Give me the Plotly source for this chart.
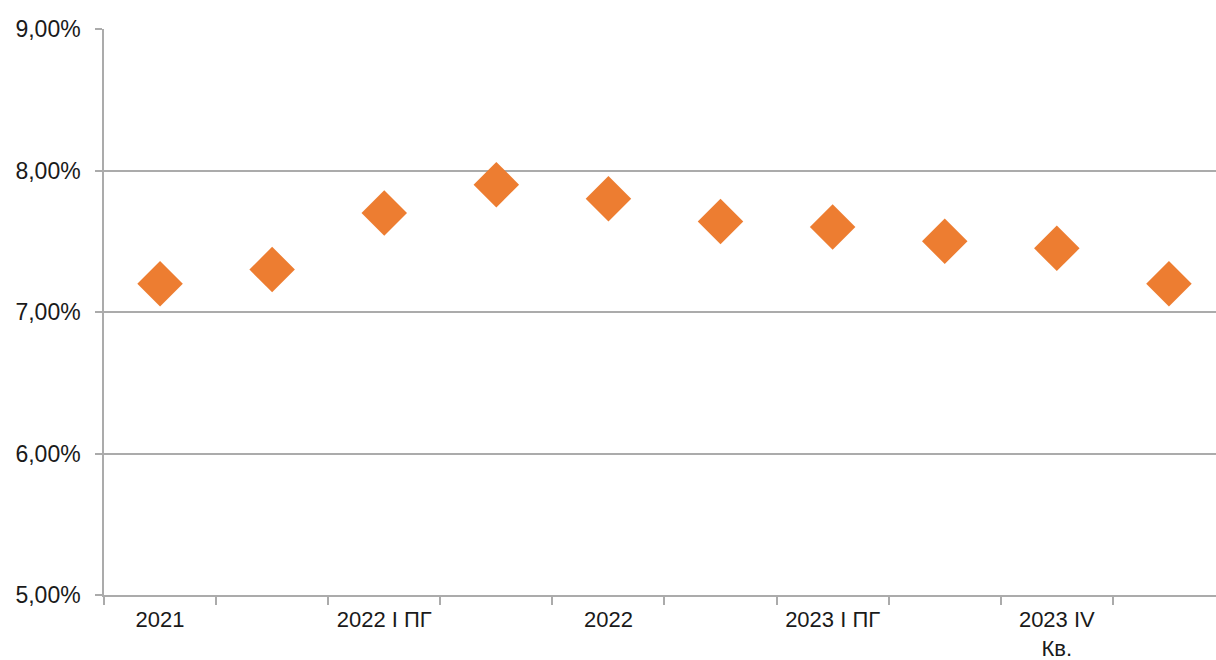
import plotly.graph_objects as go

# Periods (one per point) and the labels shown under every other period
periods = [
    "2021", "2022 I кв.", "2022 I ПГ", "2022 9 мес.", "2022",
    "2023 I кв.", "2023 I ПГ", "2023 9 мес.", "2023 IV Кв.", "2024 I кв.",
]
tick_labels = [
    "2021", "", "2022 I ПГ", "", "2022",
    "", "2023 I ПГ", "", "2023 IV<br>Кв.", "",
]
# Rate, %
rates = [7.20, 7.30, 7.70, 7.90, 7.80, 7.64, 7.60, 7.50, 7.45, 7.20]

y_ticks = [5, 6, 7, 8, 9]
y_tick_labels = ["5,00%", "6,00%", "7,00%", "8,00%", "9,00%"]

ORANGE = "#ED7D31"
GRID = "#ABABAB"
TEXT = "#1A1A1A"
FONT = "Liberation Sans, Arial, Helvetica, sans-serif"

fig = go.Figure(
    go.Scatter(
        x=periods,
        y=rates,
        mode="markers",
        marker=dict(symbol="diamond", size=35, color=ORANGE, line=dict(width=0)),
        showlegend=False,
    )
)

fig.update_layout(
    width=1216,
    height=660,
    margin=dict(l=104, r=0, t=29, b=65),
    paper_bgcolor="white",
    plot_bgcolor="white",
    font=dict(family=FONT, size=23, color=TEXT),
)

fig.update_xaxes(
    type="category",
    categoryorder="array",
    categoryarray=periods,
    range=[-0.5, 9.42],
    tickmode="array",
    tickvals=periods,
    ticktext=tick_labels,
    tickson="boundaries",
    automargin=False,
    showgrid=False,
    zeroline=False,
    showline=True,
    linecolor=GRID,
    linewidth=1.5,
    ticks="outside",
    ticklen=8,
    tickcolor=GRID,
    tickwidth=1.5,
    tickangle=0,
    ticklabelstandoff=4,
    tickfont=dict(size=22, color=TEXT),
)

fig.update_yaxes(
    range=[5, 9],
    tickmode="array",
    tickvals=y_ticks,
    ticktext=y_tick_labels,
    automargin=False,
    showgrid=True,
    gridcolor=GRID,
    gridwidth=1.5,
    zeroline=False,
    showline=True,
    linecolor=GRID,
    linewidth=1.5,
    ticks="outside",
    ticklen=7,
    tickcolor=GRID,
    tickwidth=1.5,
    ticklabelstandoff=10,
    tickfont=dict(size=23, color=TEXT),
)

fig.write_html("out.html")
